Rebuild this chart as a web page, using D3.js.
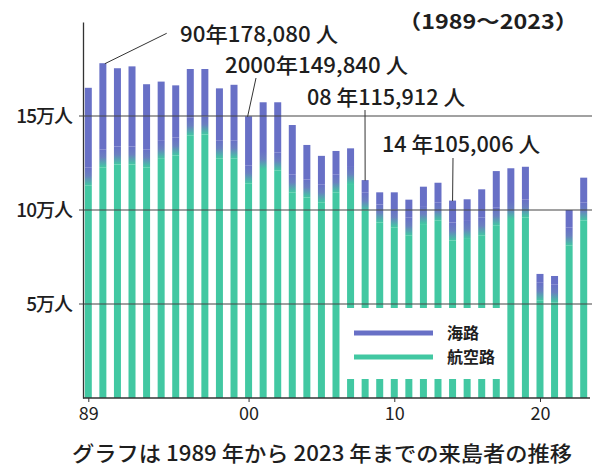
<!DOCTYPE html>
<html><head><meta charset="utf-8">
<script src="https://cdn.jsdelivr.net/npm/d3@7"></script>
<style>
html,body{margin:0;padding:0;background:#fff;}
svg{display:block;font-family:"Noto Sans CJK JP","Noto Sans",sans-serif;}
</style></head>
<body><svg id="chart" width="599" height="468"></svg>
<script>
const years = d3.range(1989, 2024);
const airValues = [117700,127500,129000,129000,127500,132000,133700,144300,145000,132300,132300,
  119000,126600,125700,114200,111500,108900,114200,118600,104400,98200,95600,91100,97300,99100,
  88500,89400,91100,96400,100000,100900,56500,55700,85800,99100];
const seaValues = [47300,50580,46400,47400,39400,36300,32600,30700,30000,32400,34300,
  30840,30700,31600,31000,23100,19900,17200,14200,11512,11200,13800,14400,15100,15400,
  16506,16300,19900,24300,22200,22100,9500,9200,14200,18100];
const yTicks = [50000,100000,150000];
const xTicks = [1989,2000,2010,2020];
const seriesNames = ["海路","航空路"];
const callouts = [
  {year:1990, text:"90年178,080 人"},
  {year:2000, text:"2000年149,840 人"},
  {year:2008, text:"08 年115,912 人"},
  {year:2014, text:"14 年105,006 人"}
];
const titleText = "（1989～2023）";
const captionText = "グラフは 1989 年から 2023 年までの来島者の推移";

const blue = "#6870c6", green = "#42c8a2", ink = "#1e1e1e";
const svg = d3.select("#chart");
const x = d3.scaleLinear().domain([1989, 2023]).range([88.3, 583.7]);
const y = d3.scaleLinear().domain([0, 200000]).range([398, 22]);
const bw = 7, blend = 9;

const defs = svg.append("defs");
const lg = defs.append("linearGradient").attr("id","blend").attr("x1",0).attr("y1",0).attr("x2",0).attr("y2",1);
lg.append("stop").attr("offset","0%").attr("stop-color",blue);
lg.append("stop").attr("offset","45%").attr("stop-color","#6a80c0");
lg.append("stop").attr("offset","100%").attr("stop-color",green);

const data = years.map((yr,i)=>({year:yr, air:airValues[i], sea:seaValues[i], total:airValues[i]+seaValues[i]}));

const bars = svg.append("g").selectAll("g").data(data).join("g");
bars.append("rect").attr("x",d=>x(d.year)-bw/2).attr("width",bw)
  .attr("y",d=>y(d.total)).attr("height",d=>Math.max(0,y(d.air)-blend-y(d.total))).attr("fill",blue);
bars.append("rect").attr("x",d=>x(d.year)-bw/2).attr("width",bw)
  .attr("y",d=>Math.max(y(d.total),y(d.air)-blend)).attr("height",d=>y(d.air)+blend-Math.max(y(d.total),y(d.air)-blend)).attr("fill","url(#blend)");
bars.append("rect").attr("x",d=>x(d.year)-bw/2).attr("width",bw)
  .attr("y",d=>y(d.air)+blend).attr("height",d=>y(0)-y(d.air)-blend).attr("fill",green);

// gridlines
svg.append("g").selectAll("line").data(yTicks).join("line")
  .attr("x1",79).attr("x2",592).attr("y1",d=>y(d)).attr("y2",d=>y(d))
  .attr("stroke","#444").attr("stroke-width",1.1);

// y axis
const ya = svg.append("g").attr("transform","translate(83,0)")
  .call(d3.axisLeft(y).tickValues(yTicks).tickSize(0).tickPadding(11).tickFormat(d=>(d/10000)+"万人"));
ya.select(".domain").attr("stroke","#333").attr("stroke-width",1.3);
ya.selectAll("text").attr("font-size",19).attr("font-weight",500).attr("fill",ink)
  .attr("font-family","'Noto Sans CJK JP',sans-serif").attr("letter-spacing",-1);

// x axis
const xa = svg.append("g").attr("transform","translate(0,398)")
  .call(d3.axisBottom(x).tickValues(xTicks).tickSize(4).tickPadding(5).tickFormat(d=>String(d).slice(2)));
xa.select(".domain").attr("d","M83,0H590").attr("stroke","#333").attr("stroke-width",1.6);
xa.selectAll(".tick line").attr("stroke","#333");
xa.selectAll("text").attr("font-size",18).attr("fill",ink).attr("font-family","'Noto Sans CJK JP',sans-serif");

// legend box
const lgBox = svg.append("g");
lgBox.append("rect").attr("x",341).attr("y",308).attr("width",165).attr("height",71).attr("fill","#fff");
seriesNames.forEach((n,i)=>{
  const ly = 333 + i*24;
  lgBox.append("line").attr("x1",354).attr("x2",433).attr("y1",ly).attr("y2",ly)
    .attr("stroke", i===0?blue:green).attr("stroke-width",5);
  lgBox.append("text").attr("x",447).attr("y",ly+6).text(n)
    .attr("font-size",16).attr("font-weight",700).attr("fill",ink);
});

// callouts
const calloutLayout = [
  {tx:180, ty:42, w:158, x1:166.7, y1:33.3, dx:2},
  {tx:225, ty:73, w:183, x1:256, y1:78, dx:-1},
  {tx:307, ty:105, w:158, x1:365, y1:110, dx:0},
  {tx:382, ty:152, w:158, x1:453, y1:158, dx:0}
];
callouts.forEach((c,i)=>{
  const L = calloutLayout[i];
  const d = data.find(e=>e.year===c.year);
  svg.append("line").attr("x1",L.x1).attr("y1",L.y1).attr("x2",x(c.year)+L.dx).attr("y2",y(d.total)+0.5)
    .attr("stroke","#333").attr("stroke-width",1);
  svg.append("text").attr("x",L.tx).attr("y",L.ty).text(c.text)
    .attr("font-size",21).attr("font-weight",500).attr("fill",ink).attr("textLength",L.w).attr("lengthAdjust","spacingAndGlyphs");
});

// title
svg.append("text").attr("x",398).attr("y",29).text(titleText)
  .attr("font-size",20).attr("font-weight",700).attr("fill",ink)
  .attr("textLength",180).attr("lengthAdjust","spacingAndGlyphs");

// caption
svg.append("text").attr("x",72).attr("y",461).text(captionText)
  .attr("font-size",21).attr("font-weight",500).attr("fill",ink).attr("textLength",500).attr("lengthAdjust","spacingAndGlyphs");
</script></body></html>
